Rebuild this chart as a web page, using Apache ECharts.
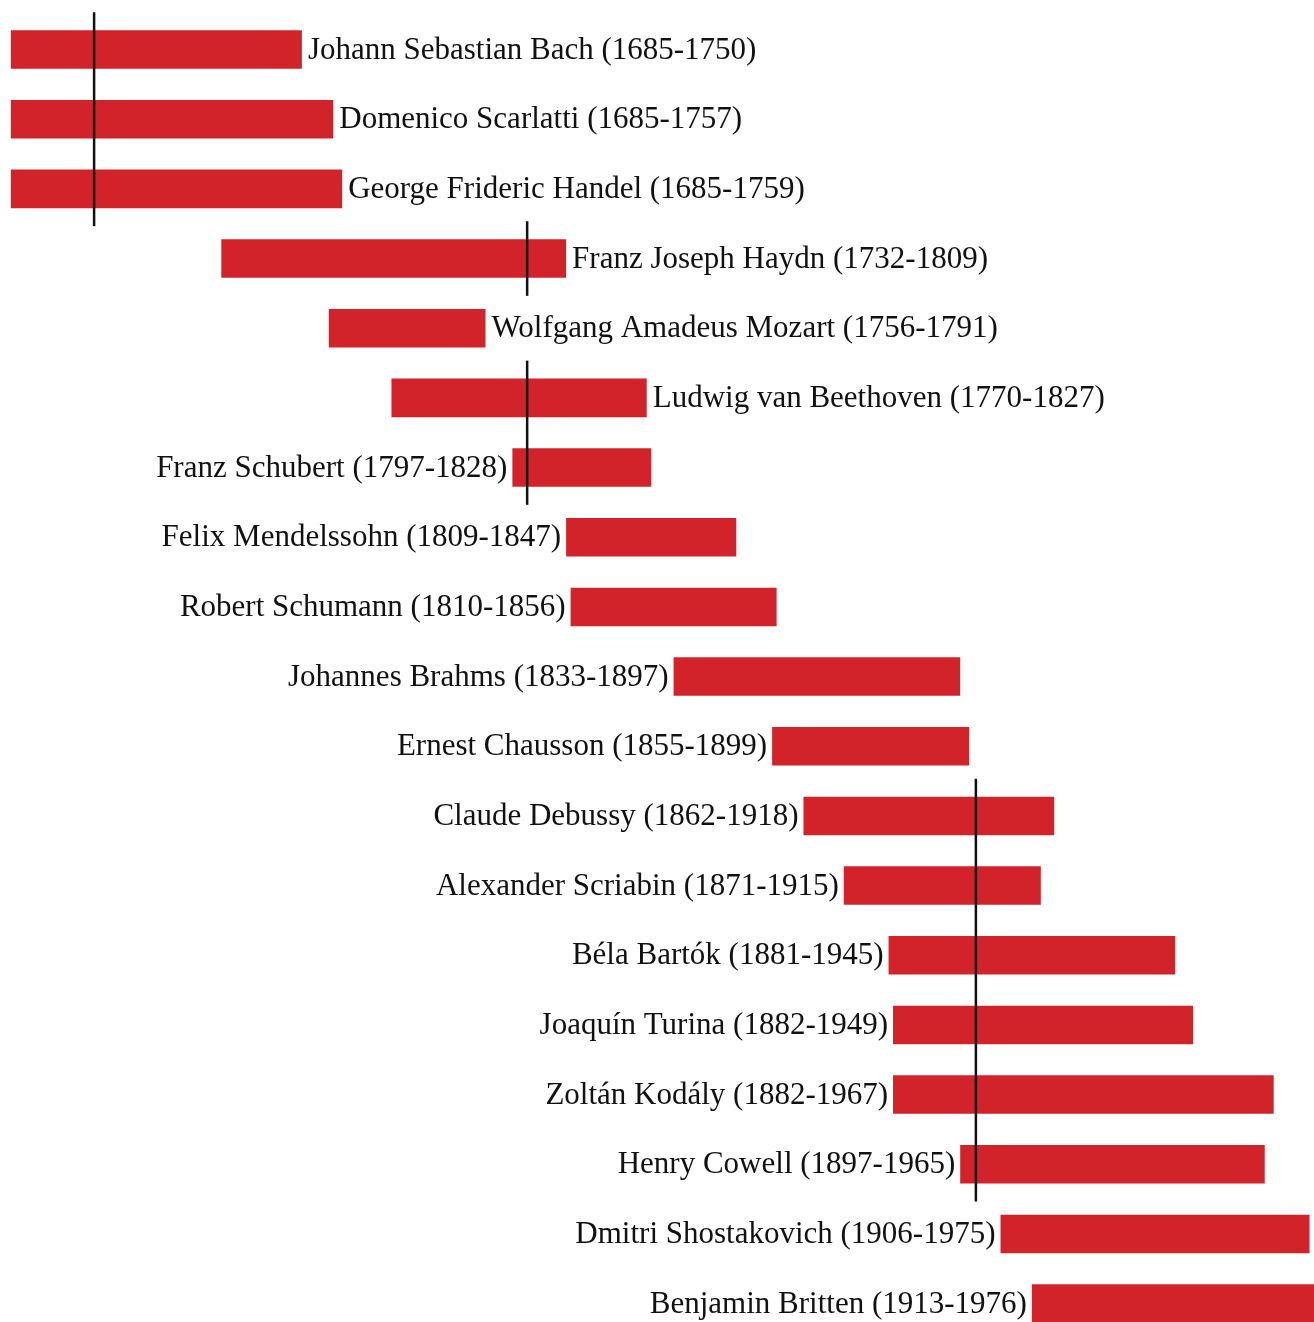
<!DOCTYPE html>
<html>
<head>
<meta charset="utf-8">
<title>Composers timeline</title>
<script src="https://cdn.jsdelivr.net/npm/echarts@6/dist/echarts.min.js"></script>
<style>
  html, body { margin: 0; padding: 0; background: #fff; }
  #chart { width: 1314px; height: 1322px; }
</style>
</head>
<body>
<div id="chart"></div>
<script>
// composers, top to bottom
const names = [
  'Johann Sebastian Bach', 'Domenico Scarlatti', 'George Frideric Handel',
  'Franz Joseph Haydn', 'Wolfgang Amadeus Mozart', 'Ludwig van Beethoven',
  'Franz Schubert', 'Felix Mendelssohn', 'Robert Schumann', 'Johannes Brahms',
  'Ernest Chausson', 'Claude Debussy', 'Alexander Scriabin', 'Béla Bartók',
  'Joaquín Turina', 'Zoltán Kodály', 'Henry Cowell', 'Dmitri Shostakovich',
  'Benjamin Britten'
];
const births = [1685, 1685, 1685, 1732, 1756, 1770, 1797, 1809, 1810, 1833,
  1855, 1862, 1871, 1881, 1882, 1882, 1897, 1906, 1913];
const deaths = [1750, 1757, 1759, 1809, 1791, 1827, 1828, 1847, 1856, 1897,
  1899, 1918, 1915, 1945, 1949, 1967, 1965, 1975, 1976];

// black vertical markers: year and the rows they span
const markerYears = [1703.6, 1800.3, 1800.3, 1900.5];
const markerFromRow = [0, 3, 5, 11];
const markerToRow = [2, 3, 6, 16];

const RED = '#d2232a';
const INK = '#111111';
const FONT = '31px "Liberation Serif", "DejaVu Serif", serif';

const chart = echarts.init(document.getElementById('chart'));

const barData = names.map((n, i) => [i, births[i], deaths[i]]);
const markerData = markerYears.map((y, i) => [y, markerFromRow[i], markerToRow[i]]);

function renderBar(params, api) {
  const i = api.value(0);
  const p0 = api.coord([api.value(1), i]);
  const p1 = api.coord([api.value(2), i]);
  const h = api.size([0, 1])[1] * 0.553;
  const label = names[i] + ' (' + births[i] + '-' + deaths[i] + ')';
  // first six composers are labelled to the right, the rest to the left
  const right = i < 6;
  return {
    type: 'group',
    children: [
      {
        type: 'rect',
        shape: { x: p0[0], y: p0[1] - h / 2, width: p1[0] - p0[0], height: h },
        style: { fill: RED }
      },
      {
        type: 'text',
        style: {
          text: label,
          x: right ? p1[0] + 6 : p0[0] - 5,
          y: p0[1] + 1,
          align: right ? 'left' : 'right',
          verticalAlign: 'middle',
          font: FONT,
          fill: INK
        }
      }
    ]
  };
}

function renderMarker(params, api) {
  const yr = api.value(0);
  const top = api.coord([yr, api.value(1)]);
  const bot = api.coord([yr, api.value(2)]);
  const ext = api.size([0, 1])[1] * 0.535;
  return {
    type: 'line',
    shape: { x1: top[0], y1: top[1] - ext, x2: bot[0], y2: bot[1] + ext },
    style: { stroke: INK, lineWidth: 2.5 }
  };
}

const option = {
  backgroundColor: '#ffffff',
  animation: false,
  // the last row runs off the bottom edge, so the y range stops short of row 18.5
  grid: { left: 10.8, right: -0.5, top: 14.7, bottom: 0 },
  xAxis: { type: 'value', min: 1685, max: 1976, show: false },
  yAxis: { type: 'value', min: -0.5, max: 18.264, inverse: true, show: false },
  series: [
    {
      type: 'custom',
      renderItem: renderBar,
      data: barData,
      encode: { x: [1, 2], y: 0 },
      clip: false,
      z: 2
    },
    {
      type: 'custom',
      renderItem: renderMarker,
      data: markerData,
      encode: { x: 0, y: [1, 2] },
      clip: false,
      z: 3
    }
  ]
};

chart.setOption(option);
</script>
</body>
</html>
